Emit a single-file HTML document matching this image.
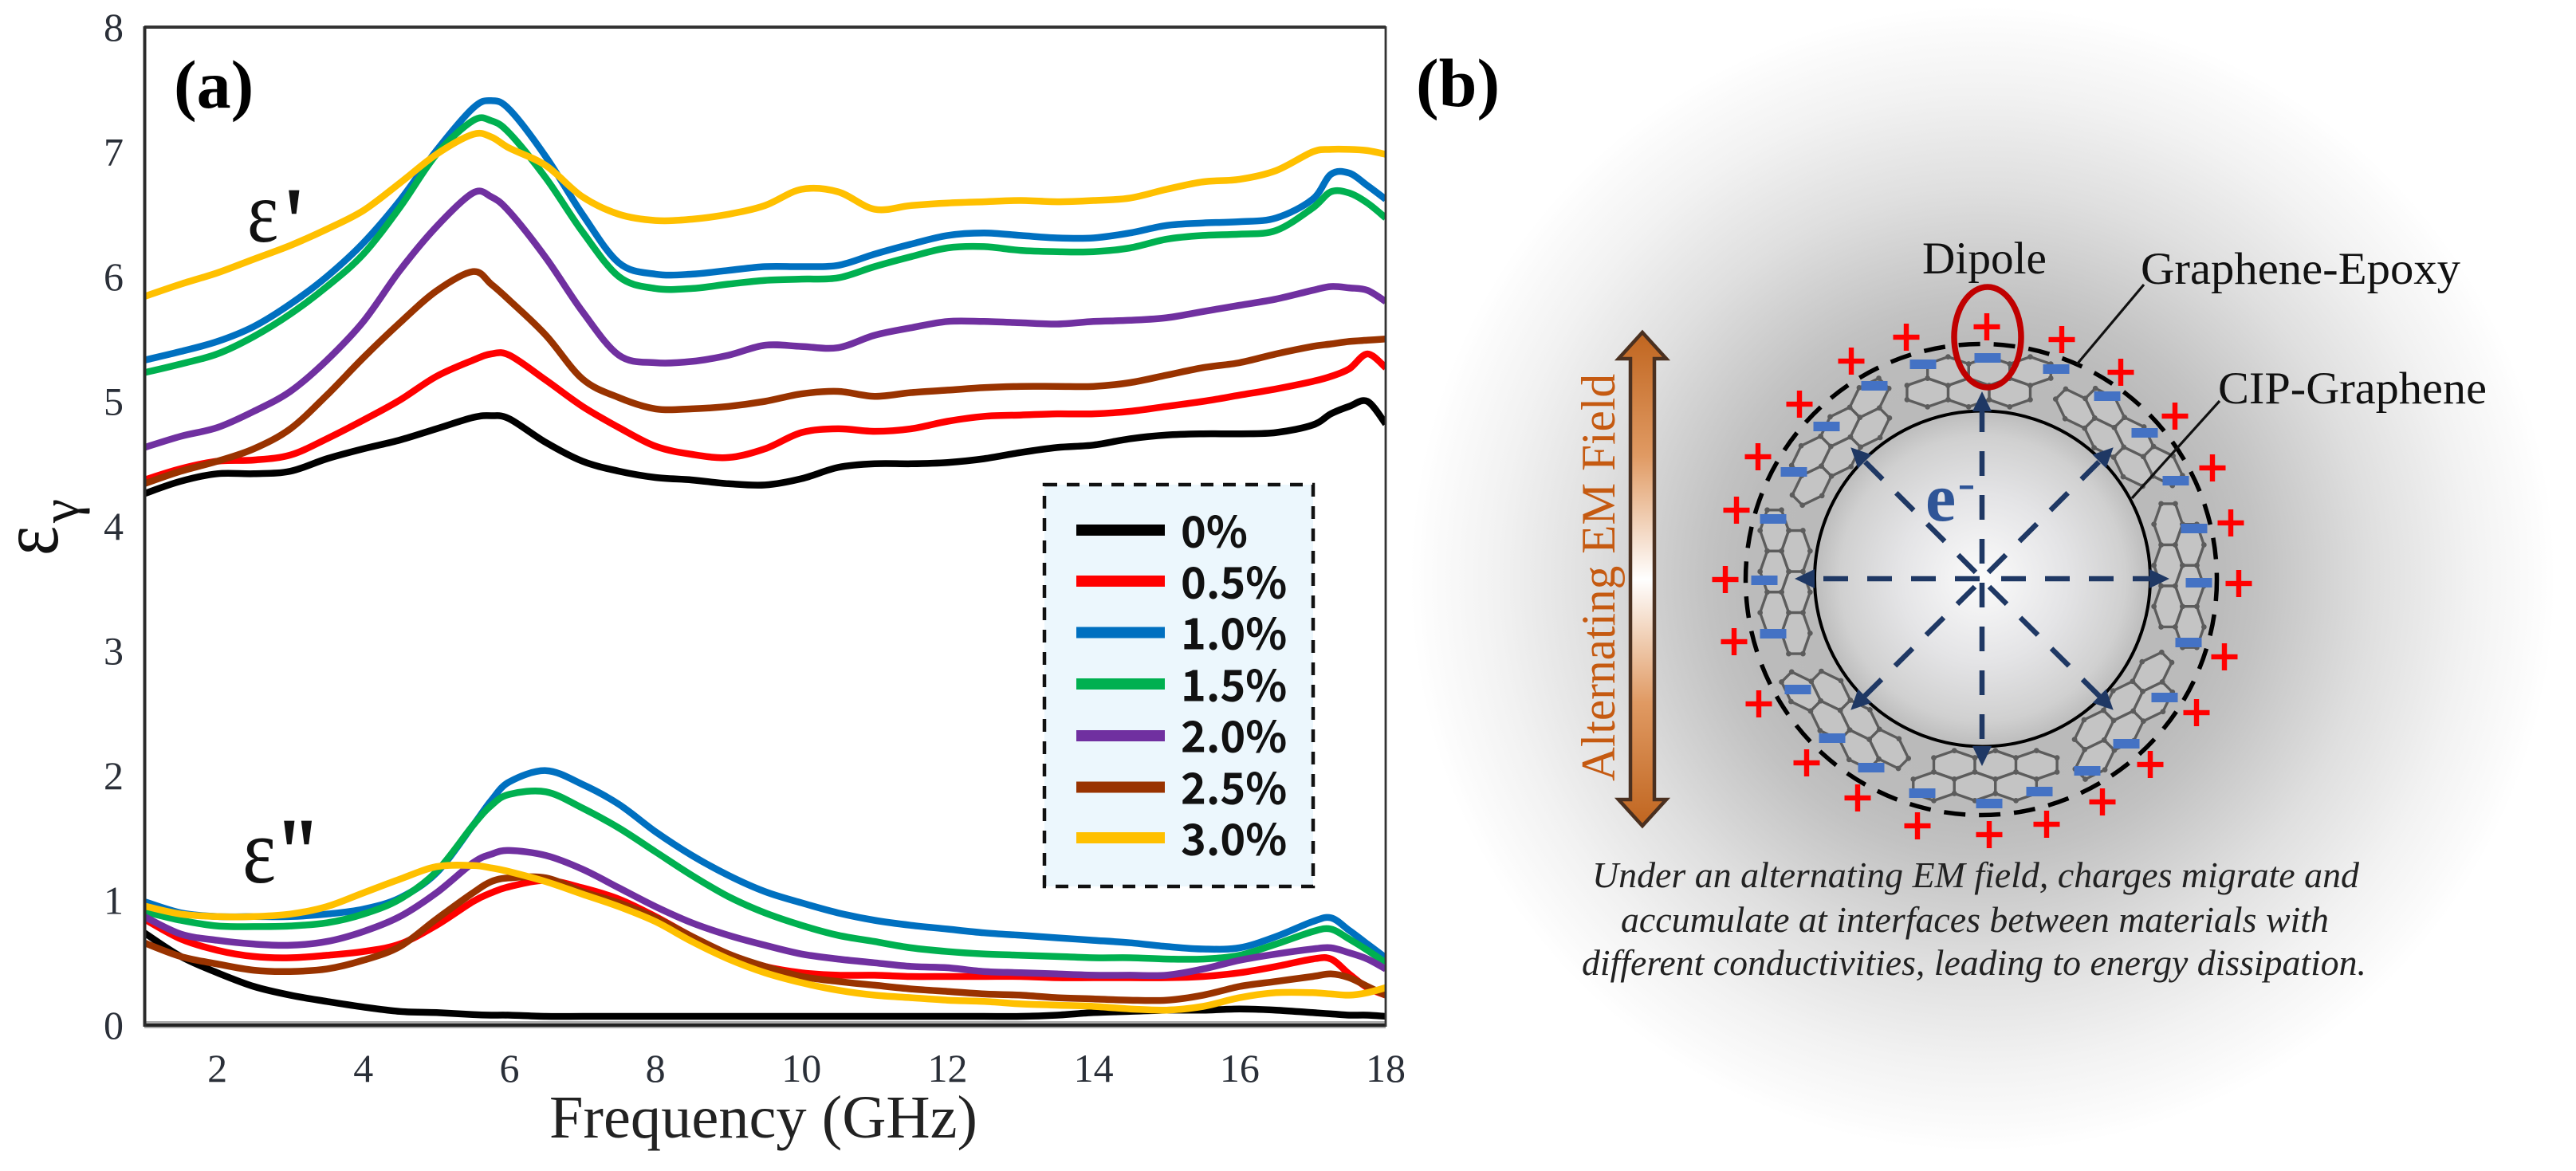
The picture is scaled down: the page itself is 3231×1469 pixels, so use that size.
<!DOCTYPE html>
<html lang="en">
<head>
<meta charset="utf-8">
<title>Permittivity spectra and interfacial polarization</title>
<style>
html,body{margin:0;padding:0;background:#fff;}
svg{display:block;}
text{font-family:"Liberation Serif",serif;}
.tick{font-size:50px;fill:#2a2f38;}
.leg{font-family:"Noto Sans CJK SC","Liberation Sans",sans-serif;font-weight:700;font-size:54px;fill:#111;dominant-baseline:central;}
.lab{font-size:57px;fill:#111;}
.cap{font-size:46px;font-style:italic;fill:#222;}
</style>
</head>
<body>
<svg id="figure" xmlns="http://www.w3.org/2000/svg" width="3231" height="1469" viewBox="0 0 3231 1469">
<defs>
<radialGradient id="haloGrad" gradientUnits="userSpaceOnUse" cx="2487" cy="726" r="718">
<stop offset="0" stop-color="#b8b8b8"/><stop offset="0.41" stop-color="#bbb"/><stop offset="0.48" stop-color="#c2c2c2"/><stop offset="0.68" stop-color="#dfdfdf"/><stop offset="0.85" stop-color="#f2f2f2"/><stop offset="0.97" stop-color="#fcfcfc"/><stop offset="1" stop-color="#fff"/>
</radialGradient>
<radialGradient id="sphereGrad"><stop offset="0" stop-color="#fbfbfb"/><stop offset="0.5" stop-color="#e4e4e6"/><stop offset="0.85" stop-color="#d0d0d0"/><stop offset="1" stop-color="#bcbcbc"/></radialGradient>
<linearGradient id="arrowGrad" x1="0" y1="0" x2="0" y2="1"><stop offset="0" stop-color="#c0651f"/><stop offset="0.25" stop-color="#e09a63"/><stop offset="0.5" stop-color="#fff"/><stop offset="0.75" stop-color="#e09a63"/><stop offset="1" stop-color="#c0651f"/></linearGradient>
<clipPath id="plotClip"><rect x="181" y="34" width="1557" height="1252"/></clipPath>
<g id="hex"><polygon points="0,-16 23,-8 23,8 0,16 -23,8 -23,-8" fill="#c4c4c4" stroke="#5c5c5c" stroke-width="3"/><circle cx="0" cy="-16" r="3" fill="#5c5c5c"/><circle cx="23" cy="-8" r="3" fill="#5c5c5c"/><circle cx="23" cy="8" r="3" fill="#5c5c5c"/><circle cx="0" cy="16" r="3" fill="#5c5c5c"/><circle cx="-23" cy="8" r="3" fill="#5c5c5c"/><circle cx="-23" cy="-8" r="3" fill="#5c5c5c"/></g>
<g id="flake"><use href="#hex" x="-31" y="-12"/><use href="#hex" x="15" y="-12"/><use href="#hex" x="61" y="-12"/><use href="#hex" x="-54" y="12"/><use href="#hex" x="-8" y="12"/><use href="#hex" x="38" y="12"/></g>
<g id="plus"><rect x="-16.5" y="-3.2" width="33" height="6.4" fill="#ff0000"/><rect x="-3.2" y="-17" width="6.4" height="34" fill="#ff0000"/></g>
<rect id="minus" x="-16.5" y="-6" width="33" height="12" fill="#4472c4"/>
<polygon id="arrowhead" points="0,-12 25,0 0,12" fill="#1f3864"/>
</defs>

<rect width="3231" height="1469" fill="#fff"/>

<!-- Panel a -->
<g id="panel-a">
<g id="series-real" clip-path="url(#plotClip)"></g>
<g id="series-imag" clip-path="url(#plotClip)"></g>
<rect x="181" y="1281" width="1557" height="9" fill="#aaa"/>
<line x1="181" y1="34" x2="1738" y2="34" stroke="#333" stroke-width="4"/>
<line x1="181" y1="1286" x2="1738" y2="1286" stroke="#222" stroke-width="4"/>
<line x1="181.5" y1="33" x2="181.5" y2="1288" stroke="#2b2b2b" stroke-width="4"/>
<line x1="1738" y1="33" x2="1738" y2="1288" stroke="#333" stroke-width="2.8"/>
<g id="y-ticks"></g>
<g id="x-ticks"></g>
<text x="689" y="1427" font-size="76" fill="#222" textLength="537" lengthAdjust="spacingAndGlyphs">Frequency (GHz)</text>
<text transform="translate(72,697) rotate(-90) scale(.85,1)" font-size="104" fill="#111">ε</text>
<text transform="translate(98,656) rotate(-90)" font-size="68" fill="#111">γ</text>
<text x="218" y="135" font-size="86" font-weight="700" fill="#000">(a)</text>
<text transform="translate(310,303) scale(.85,1)" font-size="110" fill="#111">ε</text>
<text x="358" y="318" font-size="120" fill="#111" stroke="#111" stroke-width="1.5">'</text>
<text transform="translate(304,1107) scale(.85,1)" font-size="118" fill="#111">ε</text>
<text x="352" y="1109" font-size="120" fill="#111" stroke="#111" stroke-width="1.5">''</text>

<g>
<rect x="1310" y="608" width="337" height="504" fill="#ecf7fd" stroke="#111" stroke-width="4.5" stroke-dasharray="16 12"/>
<g><line x1="1350" x2="1461" y1="665" y2="665" stroke="#000" stroke-width="14"/><text class="leg" x="1481" y="663">0%</text></g>
<g><line x1="1350" x2="1461" y1="729" y2="729" stroke="#ff0000" stroke-width="14"/><text class="leg" x="1481" y="727">0.5%</text></g>
<g><line x1="1350" x2="1461" y1="793.5" y2="793.5" stroke="#0070c0" stroke-width="14"/><text class="leg" x="1481" y="791">1.0%</text></g>
<g><line x1="1350" x2="1461" y1="858" y2="858" stroke="#00b050" stroke-width="14"/><text class="leg" x="1481" y="856">1.5%</text></g>
<g><line x1="1350" x2="1461" y1="923" y2="923" stroke="#7030a0" stroke-width="14"/><text class="leg" x="1481" y="920">2.0%</text></g>
<g><line x1="1350" x2="1461" y1="987.5" y2="987.5" stroke="#993300" stroke-width="14"/><text class="leg" x="1481" y="985">2.5%</text></g>
<g><line x1="1350" x2="1461" y1="1051" y2="1051" stroke="#ffc000" stroke-width="14"/><text class="leg" x="1481" y="1049">3.0%</text></g>
</g>
</g>

<!-- Panel b -->
<g id="panel-b">
<circle cx="2487" cy="726" r="718" fill="url(#haloGrad)"/>
<text x="1776" y="133" font-size="86" font-weight="700" fill="#000">(b)</text>

<g>
<g transform="translate(2486,726)">
<use href="#flake" transform="translate(0,247) scale(1.12)"/>
<use href="#flake" transform="rotate(45) translate(0,247) scale(1.12)"/>
<use href="#flake" transform="rotate(90) translate(0,247) scale(1.12)"/>
<use href="#flake" transform="rotate(135) translate(0,247) scale(1.12)"/>
<use href="#flake" transform="rotate(180) translate(0,247) scale(1.12)"/>
<use href="#flake" transform="rotate(225) translate(0,247) scale(1.12)"/>
<use href="#flake" transform="rotate(270) translate(0,247) scale(1.12)"/>
<use href="#flake" transform="rotate(315) translate(0,247) scale(1.12)"/>
</g>
</g>

<circle cx="2485" cy="727" r="295.5" fill="none" stroke="#000" stroke-width="5.5" stroke-dasharray="27 17"/>
<circle cx="2486.5" cy="726" r="210.5" fill="url(#sphereGrad)" stroke="#000" stroke-width="4"/>

<g transform="translate(2486,726)">
<g stroke="#1f3864" stroke-width="6.5" stroke-dasharray="31 24" fill="none">
<line x1="24" y1="0" x2="212" y2="0"/>
<line x1="-3" y1="0" x2="-212" y2="0"/>
<line x1="0" y1="-19" x2="0" y2="-212"/>
<line x1="0" y1="5" x2="0" y2="212"/>
<line x1="8" y1="-8" x2="150" y2="-150"/>
<line x1="-8" y1="-8" x2="-150" y2="-150"/>
<line x1="9" y1="10" x2="150" y2="150"/>
<line x1="-9" y1="10" x2="-150" y2="150"/>
</g>
<use href="#arrowhead" transform="translate(210,0)"/>
<use href="#arrowhead" transform="rotate(180) translate(210,0)"/>
<use href="#arrowhead" transform="rotate(-90) translate(210,0)"/>
<use href="#arrowhead" transform="rotate(90) translate(210,0)"/>
<use href="#arrowhead" transform="rotate(-45) translate(208,0)"/>
<use href="#arrowhead" transform="rotate(-135) translate(208,0)"/>
<use href="#arrowhead" transform="rotate(45) translate(208,0)"/>
<use href="#arrowhead" transform="rotate(135) translate(208,0)"/>
</g>

<g>
<use href="#minus" x="2412" y="457"/><use href="#minus" x="2493" y="449"/><use href="#minus" x="2579" y="463"/><use href="#minus" x="2351" y="484"/><use href="#minus" x="2291" y="535"/><use href="#minus" x="2250" y="592"/><use href="#minus" x="2224" y="651"/><use href="#minus" x="2213" y="728"/><use href="#minus" x="2643" y="497"/><use href="#minus" x="2690" y="543"/><use href="#minus" x="2729" y="603"/><use href="#minus" x="2752" y="663"/><use href="#minus" x="2758" y="731"/><use href="#minus" x="2224" y="795"/><use href="#minus" x="2255" y="865"/><use href="#minus" x="2298" y="926"/><use href="#minus" x="2347" y="963"/><use href="#minus" x="2411" y="995"/><use href="#minus" x="2495" y="1008"/><use href="#minus" x="2558" y="993"/><use href="#minus" x="2618" y="967"/><use href="#minus" x="2667" y="933"/><use href="#minus" x="2715" y="875"/><use href="#minus" x="2745" y="806"/>
</g>
<g>
<use href="#plus" x="2391" y="423"/><use href="#plus" x="2492" y="410"/><use href="#plus" x="2586" y="426"/><use href="#plus" x="2322" y="453"/><use href="#plus" x="2660" y="467"/><use href="#plus" x="2257" y="507"/><use href="#plus" x="2728" y="522"/><use href="#plus" x="2205" y="573"/><use href="#plus" x="2775" y="587"/><use href="#plus" x="2178" y="640"/><use href="#plus" x="2798" y="656"/><use href="#plus" x="2164" y="727"/><use href="#plus" x="2808" y="732"/><use href="#plus" x="2175" y="805"/><use href="#plus" x="2206" y="883"/><use href="#plus" x="2266" y="957"/><use href="#plus" x="2330" y="1001"/><use href="#plus" x="2405" y="1036"/><use href="#plus" x="2495" y="1047"/><use href="#plus" x="2567" y="1034"/><use href="#plus" x="2637" y="1006"/><use href="#plus" x="2697" y="959"/><use href="#plus" x="2755" y="894"/><use href="#plus" x="2790" y="824"/>
</g>

<ellipse cx="2493" cy="423" rx="42" ry="63" fill="none" stroke="#c00000" stroke-width="7.5"/>
<line x1="2689" y1="357" x2="2605" y2="457" stroke="#111" stroke-width="3.2"/>
<line x1="2784" y1="503" x2="2674" y2="625" stroke="#111" stroke-width="3.2"/>
<text class="lab" x="2411" y="343" textLength="156" lengthAdjust="spacingAndGlyphs">Dipole</text>
<text class="lab" x="2685" y="356" textLength="401" lengthAdjust="spacingAndGlyphs">Graphene-Epoxy</text>
<text class="lab" x="2782" y="506" textLength="337" lengthAdjust="spacingAndGlyphs">CIP-Graphene</text>
<text x="2415" y="653" font-size="86" font-weight="700" fill="#2f5597">e</text>
<rect x="2458" y="609" width="17" height="4.5" fill="#2f5597"/>

<path d="M2060 417 L2090 450 L2075 450 L2075 1003 L2090 1003 L2060 1036 L2030 1003 L2045 1003 L2045 450 L2030 450 Z" fill="url(#arrowGrad)" stroke="#4a3020" stroke-width="4.5"/>
<text transform="translate(2025,980) rotate(-90)" font-size="60" fill="#c55a11" textLength="511" lengthAdjust="spacingAndGlyphs">Alternating EM Field</text>

<text class="cap" x="1997" y="1113" textLength="962" lengthAdjust="spacingAndGlyphs">Under an alternating EM field, charges migrate and</text>
<text class="cap" x="2033" y="1169" textLength="888" lengthAdjust="spacingAndGlyphs">accumulate at interfaces between materials with</text>
<text class="cap" x="1984" y="1223" textLength="984" lengthAdjust="spacingAndGlyphs">different conductivities, leading to energy dissipation.</text>
</g>
</svg>

<script>
const freqGHz = [1,1.5,2,2.5,3,3.5,4,4.5,5,5.5,5.75,6,6.5,7,7.5,8,8.5,9,9.5,10,10.5,11,11.5,12,12.5,13,13.5,14,14.5,15,15.5,16,16.5,17,17.25,17.5,17.75,18];
const seriesLabels = ['0%','0.5%','1.0%','1.5%','2.0%','2.5%','3.0%'];
const seriesColors = ['#000000','#ff0000','#0070c0','#00b050','#7030a0','#993300','#ffc000'];
const xTickLabels = [2,4,6,8,10,12,14,16,18];
const yTickLabels = [0,1,2,3,4,5,6,7,8];

const real0 = [4.26,4.36,4.42,4.42,4.44,4.54,4.62,4.69,4.78,4.87,4.885,4.86,4.67,4.52,4.44,4.39,4.37,4.34,4.33,4.38,4.47,4.50,4.50,4.51,4.54,4.59,4.63,4.65,4.70,4.73,4.74,4.74,4.75,4.81,4.90,4.96,5.00,4.82];
const real05 = [4.37,4.46,4.52,4.53,4.57,4.70,4.85,5.01,5.20,5.33,5.38,5.37,5.17,4.96,4.79,4.64,4.575,4.55,4.62,4.75,4.78,4.76,4.78,4.84,4.88,4.89,4.90,4.90,4.92,4.96,5.00,5.05,5.10,5.16,5.20,5.26,5.38,5.27];
const real10 = [5.33,5.40,5.48,5.60,5.78,6.00,6.27,6.61,7.01,7.35,7.41,7.34,6.96,6.50,6.11,6.02,6.02,6.05,6.08,6.08,6.09,6.18,6.26,6.33,6.35,6.33,6.31,6.31,6.35,6.41,6.43,6.44,6.47,6.62,6.82,6.83,6.73,6.62];
const real15 = [5.23,5.30,5.38,5.52,5.70,5.92,6.18,6.555,6.98,7.25,7.25,7.15,6.79,6.36,6.00,5.905,5.905,5.94,5.97,5.98,5.99,6.08,6.16,6.23,6.24,6.21,6.20,6.20,6.23,6.30,6.33,6.34,6.37,6.55,6.68,6.67,6.59,6.47];
const real20 = [4.63,4.72,4.79,4.92,5.08,5.33,5.64,6.05,6.40,6.67,6.64,6.52,6.15,5.72,5.37,5.31,5.32,5.37,5.45,5.44,5.43,5.53,5.59,5.64,5.64,5.63,5.62,5.64,5.65,5.67,5.72,5.77,5.82,5.89,5.92,5.91,5.89,5.80];
const real25 = [4.34,4.44,4.52,4.62,4.78,5.05,5.35,5.63,5.885,6.04,5.94,5.81,5.53,5.18,5.03,4.94,4.94,4.96,5.00,5.06,5.08,5.04,5.07,5.09,5.11,5.12,5.12,5.12,5.15,5.21,5.27,5.31,5.38,5.44,5.46,5.48,5.49,5.50];
const real30 = [5.84,5.94,6.03,6.14,6.25,6.38,6.53,6.75,6.98,7.14,7.12,7.03,6.89,6.64,6.50,6.45,6.46,6.50,6.57,6.70,6.68,6.54,6.57,6.59,6.60,6.61,6.60,6.61,6.63,6.70,6.76,6.78,6.85,7.00,7.02,7.02,7.01,6.98];

const imag0 = [0.74,0.55,0.42,0.31,0.24,0.19,0.145,0.11,0.10,0.085,0.08,0.08,0.07,0.07,0.07,0.07,0.07,0.07,0.07,0.07,0.07,0.07,0.07,0.07,0.07,0.07,0.08,0.10,0.11,0.12,0.12,0.13,0.12,0.10,0.09,0.08,0.08,0.07];
const imag05 = [0.85,0.69,0.60,0.55,0.54,0.56,0.59,0.65,0.80,0.99,1.06,1.11,1.16,1.10,1.01,0.87,0.71,0.57,0.47,0.42,0.40,0.40,0.39,0.39,0.39,0.39,0.38,0.38,0.38,0.38,0.39,0.42,0.47,0.53,0.53,0.41,0.30,0.24];
const imag10 = [0.99,0.90,0.87,0.87,0.87,0.89,0.93,1.02,1.22,1.60,1.80,1.95,2.04,1.93,1.77,1.55,1.36,1.20,1.07,0.98,0.90,0.84,0.80,0.77,0.74,0.72,0.70,0.68,0.66,0.63,0.61,0.62,0.71,0.83,0.86,0.76,0.65,0.54];
const imag15 = [0.91,0.84,0.795,0.79,0.795,0.82,0.89,1.01,1.23,1.60,1.76,1.85,1.87,1.74,1.58,1.39,1.20,1.03,0.90,0.80,0.72,0.67,0.62,0.59,0.57,0.56,0.55,0.54,0.54,0.53,0.53,0.56,0.65,0.75,0.77,0.69,0.60,0.50];
const imag20 = [0.87,0.73,0.68,0.65,0.64,0.67,0.75,0.87,1.06,1.30,1.37,1.40,1.36,1.25,1.10,0.95,0.82,0.72,0.64,0.57,0.53,0.50,0.47,0.46,0.43,0.42,0.41,0.40,0.40,0.40,0.45,0.52,0.57,0.61,0.62,0.58,0.53,0.45];
const imag25 = [0.66,0.55,0.49,0.44,0.43,0.45,0.52,0.63,0.85,1.06,1.15,1.18,1.18,1.07,0.98,0.86,0.71,0.57,0.47,0.39,0.35,0.32,0.29,0.27,0.25,0.24,0.22,0.21,0.20,0.20,0.24,0.31,0.35,0.39,0.41,0.38,0.31,0.24];
const imag30 = [0.955,0.89,0.87,0.87,0.89,0.95,1.06,1.17,1.27,1.28,1.26,1.23,1.15,1.05,0.95,0.83,0.67,0.53,0.42,0.34,0.28,0.24,0.22,0.20,0.19,0.17,0.16,0.15,0.13,0.12,0.15,0.22,0.26,0.26,0.25,0.24,0.26,0.30];

const realSeries = [real0, real05, real10, real15, real20, real25, real30];
const imagSeries = [imag0, imag05, imag10, imag15, imag20, imag25, imag30];

const SVG_NS = 'http://www.w3.org/2000/svg';
function xScale(f){ return 181 + (f - 1) * (1738 - 181) / 17; }
function yScale(v){ return 1286 - v * (1286 - 34) / 8; }

function linePath(values){
  const pts = values.map(function(v, i){ return [xScale(freqGHz[i]), yScale(v)]; });
  let d = 'M' + pts[0][0].toFixed(1) + ' ' + pts[0][1].toFixed(1);
  for (let i = 0; i < pts.length - 1; i++){
    const p0 = pts[Math.max(i - 1, 0)], p1 = pts[i], p2 = pts[i + 1], p3 = pts[Math.min(i + 2, pts.length - 1)];
    const c1x = p1[0] + (p2[0] - p0[0]) / 6, c1y = p1[1] + (p2[1] - p0[1]) / 6;
    const c2x = p2[0] - (p3[0] - p1[0]) / 6, c2y = p2[1] - (p3[1] - p1[1]) / 6;
    d += 'C' + c1x.toFixed(1) + ' ' + c1y.toFixed(1) + ' ' + c2x.toFixed(1) + ' ' + c2y.toFixed(1) + ' ' + p2[0].toFixed(1) + ' ' + p2[1].toFixed(1);
  }
  return d;
}

function drawSeries(groupId, collection, prefix){
  const group = document.getElementById(groupId);
  collection.forEach(function(values, i){
    const path = document.createElementNS(SVG_NS, 'path');
    path.setAttribute('d', linePath(values));
    path.setAttribute('fill', 'none');
    path.setAttribute('stroke', seriesColors[i]);
    path.setAttribute('stroke-width', '8.5');
    path.setAttribute('stroke-linejoin', 'round');
    
    
    group.appendChild(path);
  });
}
drawSeries('series-real', realSeries, 'real');
drawSeries('series-imag', imagSeries, 'imag');

const xTickGroup = document.getElementById('x-ticks');
xTickLabels.forEach(function(t){
  const el = document.createElementNS(SVG_NS, 'text');
  el.setAttribute('class', 'tick');
  el.setAttribute('x', xScale(t));
  el.setAttribute('y', 1357);
  el.setAttribute('text-anchor', 'middle');
  
  
  el.textContent = t;
  xTickGroup.appendChild(el);
});

const yTickGroup = document.getElementById('y-ticks');
yTickLabels.forEach(function(t){
  const el = document.createElementNS(SVG_NS, 'text');
  el.setAttribute('class', 'tick');
  el.setAttribute('x', 155);
  el.setAttribute('y', yScale(t) + 17);
  el.setAttribute('text-anchor', 'end');
  
  
  el.textContent = t;
  yTickGroup.appendChild(el);
});
</script>
</body>
</html>
